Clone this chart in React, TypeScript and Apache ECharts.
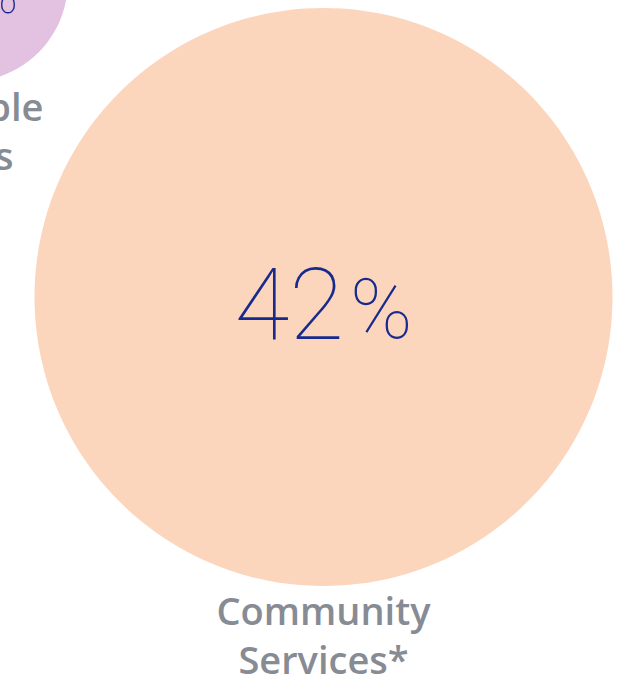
import React, { useEffect, useRef } from "react";
import * as echarts from "echarts";

// Bubble data (position in chart units, share in %)
const names = ["Older People\nPrograms", "Community\nServices*"];
const xs = [-32, 323.5];
const ys = [-18, 297];
const shares = [5, 42];
const colors = ["#e3c1e1", "#fcd5bd"];

const X_MAX = 633;
const Y_MAX = 677;
const SIZE_K = 578 / Math.sqrt(42);

export default function App() {
  const ref = useRef<HTMLDivElement>(null);
  useEffect(() => {
    if (!ref.current) return;
    const chart = echarts.init(ref.current, null, { renderer: "svg" });
    const numColor = "#172a8d";
    const numStyle = (size: number, pad: number[]) => ({
      fontFamily: "Roboto",
      fontWeight: 100,
      fontSize: size,
      color: numColor,
      lineHeight: 110,
      verticalAlign: "bottom",
      padding: pad,
    });
    chart.setOption({
      animation: false,
      grid: { left: 0, right: 0, top: 0, bottom: 0 },
      xAxis: { type: "value", min: 0, max: X_MAX, show: false },
      yAxis: { type: "value", min: 0, max: Y_MAX, inverse: true, show: false },
      series: [
        {
          type: "scatter",
          clip: false,
          silent: true,
          symbol: "circle",
          symbolSize: (v: number[]) => SIZE_K * Math.sqrt(v[2]),
          data: names.map((n, i) => ({
            name: n,
            value: [xs[i], ys[i], shares[i]],
            itemStyle: { color: colors[i], opacity: 1 },
            label: { offset: i === 0 ? [12, -14] : [0, 2] },
          })),
          label: {
            show: true,
            position: "inside",
            formatter: (p: any) =>
              p.dataIndex === 0
                ? `{ns|${p.value[2]}}{ps|%}`
                : `{n|${p.value[2]}}{p|%}`,
            rich: {
              n: numStyle(100, [0, 2, 0, 0]),
              p: numStyle(84, [0, 0, 3, 4]),
              ns: numStyle(62, [0, 1, 0, 0]),
              ps: numStyle(52, [0, 0, 2, 2]),
            },
          },
        },
        {
          type: "scatter",
          clip: false,
          silent: true,
          symbol: "circle",
          symbolSize: (v: number[]) => SIZE_K * Math.sqrt(v[2]),
          itemStyle: { color: "rgba(0,0,0,0)", opacity: 1 },
          z: 3,
          data: names.map((n, i) => ({
            name: n,
            value: [xs[i], ys[i], shares[i]],
            label: { offset: i === 0 ? [-43, 0] : [0, -1] },
          })),
          label: {
            show: true,
            position: "bottom",
            distance: 0,
            formatter: (p: any) => p.name,
            fontFamily: "Open Sans",
            fontWeight: 600,
            fontSize: 38,
            lineHeight: 49,
            color: "#878b94",
            align: "center",
          },
        },
      ],
    });
    return () => chart.dispose();
  }, []);
  return (
    <div
      ref={ref}
      style={{ position: "absolute", left: 0, top: 0, width: 633, height: 677 }}
    />
  );
}
